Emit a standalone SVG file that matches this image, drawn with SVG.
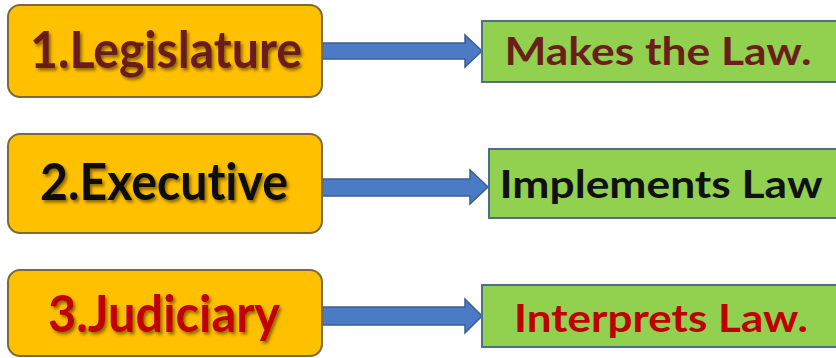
<svg xmlns="http://www.w3.org/2000/svg" width="836" height="358" viewBox="0 0 836 358">
<defs>
<filter id="sh" x="-10%" y="-20%" width="120%" height="150%">
<feDropShadow dx="2" dy="2.5" stdDeviation="1.5" flood-color="#000" flood-opacity="0.45"/>
</filter>
<style>
.org{fill:#FFC000;stroke:#7B6A3E;stroke-width:2}
.grn{fill:#92D050;stroke:#4F6E8C;stroke-width:2}
.arr{fill:#4A7BC4;stroke:#3A5F95;stroke-width:1.5}
.t{font-family:Lato,"Open Sans","Liberation Sans",sans-serif;font-weight:bold;text-anchor:middle;font-variant-ligatures:none;font-feature-settings:"liga" 0}
.big{font-size:51px}
.sm{font-size:39px}
.maroon{fill:#6A1F1A}
.blk{fill:#111}
.red{fill:#C00000}
</style>
</defs>
<rect width="836" height="358" fill="#fff"/>
<g id="connectors">
<polygon class="arr" points="322,43 465,43 465,35 482,51 465,67 465,59 322,59"/>
<polygon class="arr" points="322,179 470,179 470,170 488,187 470,204 470,196 322,196"/>
<polygon class="arr" points="322,307 465,307 465,299 482,316 465,333 465,325 322,325"/>
</g>
<g id="legislature">
<rect class="org" x="8" y="5" width="314" height="92" rx="12"/>
<text class="t big maroon" x="166" y="68" textLength="272" lengthAdjust="spacingAndGlyphs" filter="url(#sh)">1.Legislature</text>
</g>
<g id="makes">
<rect class="grn" x="482" y="21" width="360" height="61"/>
<text class="t sm maroon" x="658" y="65" textLength="307" lengthAdjust="spacingAndGlyphs">Makes the Law.</text>
</g>
<g id="executive">
<rect class="org" x="8" y="134" width="314" height="99" rx="12"/>
<text class="t big blk" x="164" y="200" textLength="248" lengthAdjust="spacingAndGlyphs" filter="url(#sh)">2.Executive</text>
</g>
<g id="implements">
<rect class="grn" x="489" y="149" width="360" height="69"/>
<text class="t sm blk" x="661" y="198" textLength="323" lengthAdjust="spacingAndGlyphs">Implements Law</text>
</g>
<g id="judiciary">
<rect class="org" x="8" y="270" width="314" height="86" rx="12"/>
<text class="t big red" x="164" y="332" textLength="232" lengthAdjust="spacingAndGlyphs" filter="url(#sh)">3.Judiciary</text>
</g>
<g id="interprets">
<rect class="grn" x="482" y="285" width="360" height="62"/>
<text class="t sm red" x="661" y="332" textLength="294" lengthAdjust="spacingAndGlyphs">Interprets Law.</text>
</g>
</svg>
